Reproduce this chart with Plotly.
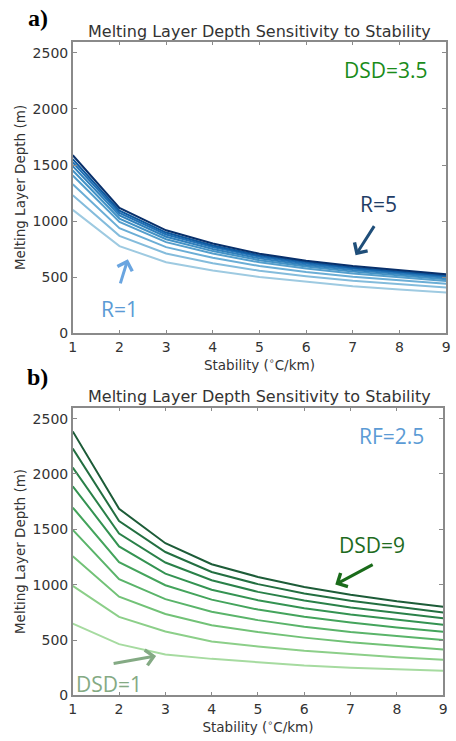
import plotly.graph_objects as go

# ---------------- data ----------------
stability = [1, 2, 3, 4, 5, 6, 7, 8, 9]
x_ticks = [1, 2, 3, 4, 5, 6, 7, 8, 9]
y_ticks = [0, 500, 1000, 1500, 2000, 2500]

R_values = [1, 1.5, 2, 2.5, 3, 3.5, 4, 4.5, 5]
depth_vs_R = [
    [1100, 777, 634, 560, 502, 458, 420, 390, 365],
    [1231, 869, 711, 625, 558, 509, 469, 436, 409],
    [1329, 937, 768, 673, 600, 547, 505, 471, 441],
    [1407, 992, 813, 711, 633, 578, 533, 498, 467],
    [1451, 1023, 839, 733, 652, 595, 550, 514, 482],
    [1490, 1050, 861, 752, 668, 610, 564, 528, 495],
    [1524, 1074, 881, 769, 683, 623, 577, 540, 506],
    [1553, 1094, 898, 783, 695, 635, 587, 550, 516],
    [1587, 1118, 918, 800, 710, 648, 600, 562, 527],
]

DSD_values = [1, 2, 3, 4, 5, 6, 7, 8, 9]
depth_vs_DSD = [
    [649, 463, 370, 330, 300, 270, 250, 236, 222],
    [990, 709, 578, 487, 442, 403, 374, 344, 323],
    [1257, 892, 735, 634, 573, 522, 480, 445, 415],
    [1495, 1050, 870, 755, 680, 620, 573, 535, 500],
    [1697, 1204, 995, 865, 775, 710, 658, 613, 575],
    [1889, 1346, 1100, 955, 860, 788, 730, 682, 638],
    [2058, 1462, 1200, 1040, 935, 858, 795, 745, 698],
    [2230, 1575, 1295, 1115, 1005, 920, 855, 800, 748],
    [2384, 1685, 1375, 1185, 1070, 980, 910, 850, 800],
]

blues = ['#9ecae1', '#84bcdc', '#6baed6', '#559fcd', '#4292c6', '#3080bc',
         '#2171b5', '#0f5aa0', '#08306b']
greens = ['#a6dba0', '#8ccf89', '#72c277', '#5ab46a', '#44a45c', '#349352',
          '#2a8149', '#236f41', '#1d5c38']

W, H = 456, 741

fig = go.Figure()
for i, r in enumerate(R_values):
    fig.add_trace(go.Scatter(x=stability, y=depth_vs_R[i], mode='lines',
                             line=dict(color=blues[i], width=2),
                             name=f'R={r}', xaxis='x', yaxis='y'))
for i, d in enumerate(DSD_values):
    fig.add_trace(go.Scatter(x=stability, y=depth_vs_DSD[i], mode='lines',
                             line=dict(color=greens[i], width=2),
                             name=f'DSD={d}', xaxis='x2', yaxis='y2'))

tickfont = dict(family='DejaVu Sans', size=14, color='#333333')
axis_common = dict(showline=True, linecolor='#8a8a8a', linewidth=1.5,
                   mirror='ticks', ticks='inside', ticklen=4,
                   tickcolor='#8a8a8a', showgrid=False, zeroline=False,
                   tickfont=tickfont)

def px_x(px):
    return px / W

def px_y(py):
    return (H - py) / H

xtitle = dict(text='Stability (<sup>∘</sup>C/km)',
              font=dict(family='DejaVu Sans', size=13.5, color='#333333'),
              standoff=6)
ytitle = dict(text='Melting Layer Depth (m)',
              font=dict(family='DejaVu Sans', size=13.5, color='#333333'),
              standoff=4)

fig.update_layout(
    width=W, height=H,
    margin=dict(l=0, r=0, t=0, b=0),
    paper_bgcolor='white', plot_bgcolor='white',
    showlegend=False,
    xaxis=dict(domain=[px_x(70), px_x(450)], range=[1, 9], tickvals=x_ticks,
               anchor='y', title=xtitle, **axis_common),
    yaxis=dict(domain=[px_y(337), px_y(42)], range=[0, 2600], tickvals=y_ticks,
               anchor='x', title=ytitle, **axis_common),
    xaxis2=dict(domain=[px_x(70), px_x(447)], range=[1, 9], tickvals=x_ticks,
                anchor='y2', title=xtitle, **axis_common),
    yaxis2=dict(domain=[px_y(703), px_y(412)], range=[0, 2600], tickvals=y_ticks,
                anchor='x2', title=ytitle, **axis_common),
)

title_text = 'Melting Layer Depth Sensitivity to Stability'
title_font = dict(family='DejaVu Sans', size=16, color='#333333')
label_font = dict(family='Liberation Serif', size=24, color='black')
annos = [
    dict(text=title_text, xref='paper', yref='paper', x=px_x(260), y=px_y(32),
         xanchor='center', yanchor='middle', showarrow=False, font=title_font),
    dict(text=title_text, xref='paper', yref='paper', x=px_x(260), y=px_y(401),
         xanchor='center', yanchor='middle', showarrow=False, font=title_font),
    dict(text='<b>a)</b>', xref='paper', yref='paper', x=px_x(35), y=px_y(18),
         xanchor='center', yanchor='middle', showarrow=False, font=label_font),
    dict(text='<b>b)</b>', xref='paper', yref='paper', x=px_x(34), y=px_y(381),
         xanchor='center', yanchor='middle', showarrow=False, font=label_font),
    # top panel labels
    dict(text='DSD=3.5', xref='x', yref='y', x=8.65, y=2350, xanchor='right',
         showarrow=False, font=dict(family='Open Sans', size=21, color='#1a8c1a')),
    dict(text='R=5', xref='x', yref='y', x=7.55, y=1155, showarrow=False,
         font=dict(family='Open Sans', size=21, color='#1f3d66')),
    dict(text='', xref='x', yref='y', x=7.06, y=696, axref='x', ayref='y',
         ax=7.48, ay=969, showarrow=True, arrowhead=4, arrowsize=1,
         arrowwidth=3, arrowcolor='#1f4e79'),
    dict(text='R=1', xref='x', yref='y', x=2.01, y=220, showarrow=False,
         font=dict(family='Open Sans', size=21, color='#5b9bd5')),
    dict(text='', xref='x', yref='y', x=2.18, y=661, axref='x', ayref='y',
         ax=2.01, ay=432, showarrow=True, arrowhead=4, arrowsize=1,
         arrowwidth=3, arrowcolor='#6aa5e0'),
    # bottom panel labels
    dict(text='RF=2.5', xref='x2', yref='y2', x=8.64, y=2341, xanchor='right',
         showarrow=False, font=dict(family='Open Sans', size=21, color='#5b9bd5')),
    dict(text='DSD=9', xref='x2', yref='y2', x=7.47, y=1358, showarrow=False,
         font=dict(family='Open Sans', size=21, color='#1e6b1e')),
    dict(text='', xref='x2', yref='y2', x=6.67, y=1001, axref='x2', ayref='y2',
         ax=7.51, ay=1188, showarrow=True, arrowhead=4, arrowsize=1,
         arrowwidth=3, arrowcolor='#1a6b1a'),
    dict(text='DSD=1', xref='x2', yref='y2', x=1.02, y=107, xanchor='left',
         showarrow=False, font=dict(family='Open Sans', size=21, color='#84aa84')),
    dict(text='', xref='x2', yref='y2', x=2.80, y=357, axref='x2', ayref='y2',
         ax=1.85, ay=286, showarrow=True, arrowhead=4, arrowsize=1,
         arrowwidth=3, arrowcolor='#84aa84'),
]
fig.update_layout(annotations=annos)

fig.write_html('out.html')
